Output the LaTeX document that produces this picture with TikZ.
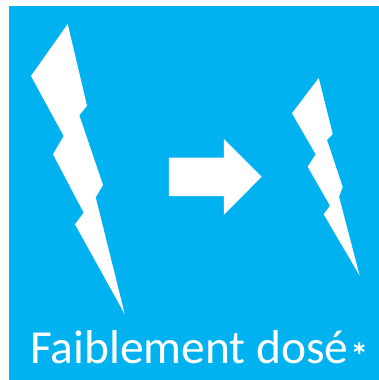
\documentclass[tikz,border=0pt]{standalone}
\usepackage{fontspec}
\setmainfont{Carlito}
\usepackage{xcolor}
\definecolor{panelblue}{HTML}{00B3F0}
\usetikzlibrary{positioning}

\begin{document}
\begin{tikzpicture}[x=0.75pt,y=-0.75pt,
    panel/.style={fill=panelblue},
    shapeW/.style={fill=white},
    caption/.style={text=white,inner sep=0pt,anchor=base west,font=\fontsize{35.6}{38}\selectfont}]
  \useasboundingbox (0,0) rectangle (379,380);
  \fill[panel] (9,6) rectangle (379,380);
  % large bolt
  \fill[shapeW] (67.7,24) -- (31,76) -- (63.7,136) -- (53,154.3) -- (83.7,212.7) -- (75,224.3)
    -- (124.7,314) -- (95.7,197.3) -- (103,185) -- (79.3,115.3) -- (87,105.7) -- cycle;
  % arrow
  \fill[shapeW] (169,157.7) -- (224,157.7) -- (224,139) -- (261.7,176.7) -- (224,214.7)
    -- (224,196) -- (169,196) -- cycle;
  % small bolt
  \fill[shapeW] (318.7,78) -- (292,113.3) -- (315.7,154.3) -- (307.7,166.7) -- (330,205.7) -- (323.7,214.3)
    -- (359.7,275.7) -- (339,196.7) -- (342.7,187) -- (327,140) -- (332.7,134) -- cycle;
  \node[caption] (label) at (30,363) {Faiblement dosé};
  \node[caption,font=\fontsize{27}{30}\selectfont\bfseries,anchor=base west] (star) at (350,368) {*};
\end{tikzpicture}
\end{document}
